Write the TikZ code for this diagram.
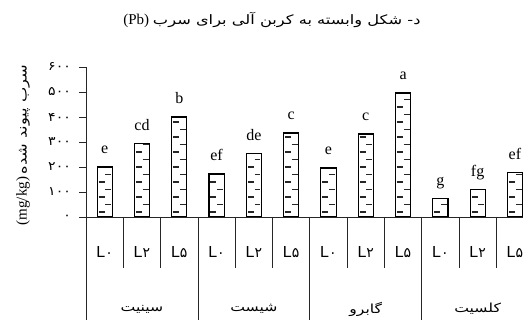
\documentclass[tikz,border=0pt]{standalone}
\usepackage{fontspec}
\setmainfont{Liberation Serif}
\newfontfamily\arabicfont[Script=Arabic]{DejaVu Sans}
\newfontfamily\arabicwide[Script=Arabic,FakeStretch=1.25]{DejaVu Sans}
\newfontfamily\digitwide[Script=Arabic,FakeStretch=1.12]{DejaVu Sans}
\newfontfamily\lsans{Liberation Sans}
\TeXXeTstate=1
\tikzset{
  axisline/.style={draw=black!85, line width=0.8pt},
  barline/.style={draw=black, line width=1.1pt},
  dashrow/.style={draw=black!85, line width=1.3pt},
  barlab/.style={font=\fontsize{16}{16}\selectfont, anchor=base, inner sep=0pt},
  ticklab/.style={font=\digitwide\fontsize{12.5}{12.5}\selectfont, anchor=east, inner sep=0pt},
  catlab/.style={font=\fontsize{16}{16}\selectfont, inner sep=0pt},
  grplab/.style={font=\arabicwide\fontsize{12.5}{14}\selectfont, inner sep=0pt},
}
\begin{document}
\begin{tikzpicture}[x=1pt,y=-1pt]
\useasboundingbox (0,0) rectangle (523,320);
% title
\node[font=\fontsize{15}{16}\selectfont, inner sep=0pt] (title) at (272,20)
  {(Pb) {\arabicwide\fontsize{13}{16}\selectfont\beginR د- شکل وابسته به کربن آلی برای سرب\endR}};
% y axis title
\node[rotate=90, inner sep=0pt] (ytitle) at (23,145)
  {{\fontsize{15}{15}\selectfont (mg/kg)} {\arabicwide\fontsize{13}{15}\selectfont\beginR سرب پیوند شده\endR}};
% bars
\foreach \i/\v/\lab in {0/200/e,1/295/cd,2/400/b,3/172/ef,4/253/de,5/336/c,6/196/e,7/332/c,8/496/a,9/73/g,10/111/fg,11/177/ef} {
  \pgfmathsetmacro\xc{86+37.3*(\i+0.5)}
  \pgfmathsetmacro\xl{\xc-7.6}
  \pgfmathsetmacro\xr{\xc+7.6}
  \pgfmathsetmacro\yt{217-0.25*\v}
  \begin{scope}
    \clip (\xl,\yt) rectangle (\xr,217);
    \foreach \k in {0,...,8} {
      \pgfmathsetmacro\ya{212-15*\k}
      \pgfmathsetmacro\yb{212-15*\k-7.5}
      \draw[dashrow] (\xl+1.5,\ya) -- (\xl+7.5,\ya);
      \draw[dashrow] (\xl+8.3,\yb) -- (\xl+14.2,\yb);
    }
  \end{scope}
  \draw[barline] (\xl,\yt) rectangle (\xr,217);
  \node[barlab] (lab\i) at (\xc,\yt-13) {\lab};
}
% y axis
\draw[axisline] (86,67) -- (86,320);
\foreach \t/\d in {0/۰,1/۱۰۰,2/۲۰۰,3/۳۰۰,4/۴۰۰,5/۵۰۰,6/۶۰۰} {
  \draw[axisline] (79,217-25*\t) -- (86,217-25*\t);
  \node[ticklab] (tick\t) at (71,217-25*\t) {\d};
}
% x axis
\draw[axisline] (79,217) -- (523,217);
\foreach \i in {1,2,4,5,7,8,10,11} {
  \draw[axisline] (86+37.3*\i,217) -- (86+37.3*\i,268);
}
\foreach \i in {3,6,9} {
  \draw[axisline] (86+37.3*\i,217) -- (86+37.3*\i,320);
}
% category labels
\foreach \i/\d in {0/۰,1/۲,2/۵,3/۰,4/۲,5/۵,6/۰,7/۲,8/۵,9/۰,10/۲,11/۵} {
  \node[catlab] (cat\i) at (86+37.3*\i+18.65,252) {{\lsans L}{\arabicfont\fontsize{14}{14}\selectfont\d}};
}
% group labels
\node[grplab] (g1) at (86+37.3*1.5,309) {\beginR سینیت\endR};
\node[grplab] (g2) at (86+37.3*4.5,309) {\beginR شیست\endR};
\node[grplab] (g3) at (86+37.3*7.5,309) {\beginR گابرو\endR};
\node[grplab] (g4) at (86+37.3*10.5,309) {\beginR کلسیت\endR};
\end{tikzpicture}
\end{document}
